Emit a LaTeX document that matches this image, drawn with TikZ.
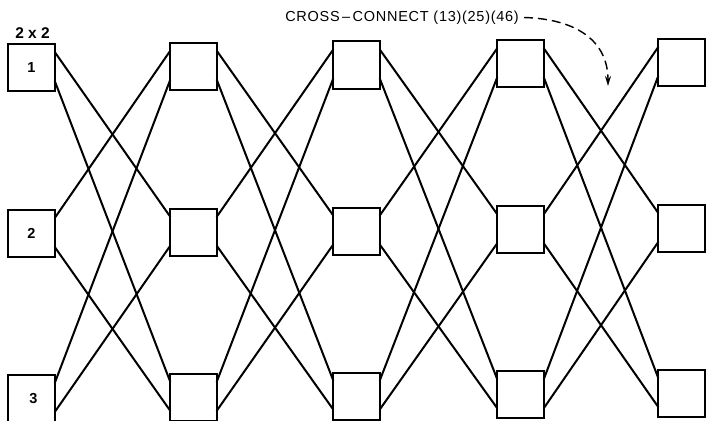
\documentclass[tikz,border=0pt]{standalone}
\usepackage{fontspec}
\setmainfont{Liberation Sans}
\newfontfamily\ccfont[LetterSpace=5]{Liberation Sans}
\usetikzlibrary{arrows.meta,calc}
\begin{document}
\begin{tikzpicture}[x=1pt,y=-1pt,
  switchbox/.style={draw, line width=2pt, minimum width=46.5pt,
    minimum height=47pt, inner sep=0pt, outer sep=0pt},
  digit/.style={font=\bfseries\fontsize{14.5}{14.5}\selectfont, inner sep=0pt},
  link/.style={line width=2pt, line cap=round},
  pointer/.style={line width=1.4pt, dash pattern=on 9pt off 5pt,
    -{Stealth[length=10pt,width=6pt]}}]
\useasboundingbox (0,0) rectangle (706,420);

% five stages of three 2x2 switches; each switch has two ports per side
\foreach \c/\x in {1/31.5,2/193.5,3/356.5,4/520.5,5/681.5}{
  \foreach \r/\t in {1/44,2/210,3/375}{
    \pgfmathsetmacro{\ytop}{\t-1.25*(\c-1)}
    \node[switchbox] (b\c\r) at (\x,\ytop+23.5) {};
    \coordinate (i\c\r u) at ($(b\c\r.north west)+(0,8)$);
    \coordinate (i\c\r l) at ($(b\c\r.north west)+(0,37)$);
    \coordinate (o\c\r u) at ($(b\c\r.north east)+(0,8)$);
    \coordinate (o\c\r l) at ($(b\c\r.north east)+(0,37)$);
  }
}

% cross-connect (13)(25)(46) between successive stages
\foreach \c [evaluate=\c as \n using int(\c+1)] in {1,2,3,4}{
  \draw[link] (o\c1u) -- (i\n2u);
  \draw[link] (o\c2u) -- (i\n1u);
  \draw[link] (o\c1l) -- (i\n3u);
  \draw[link] (o\c3u) -- (i\n1l);
  \draw[link] (o\c2l) -- (i\n3l);
  \draw[link] (o\c3l) -- (i\n2l);
}

% switch numbers and size label
\node[digit] (n1) at (b11.center) {1};
\node[digit] (n2) at (b12.center) {2};
\node[digit] (n3) at ($(b13.center)+(2,0)$) {3};
\node[font=\bfseries\fontsize{15.5}{15.5}\selectfont, inner sep=0pt] (size) at (32.5,33.5) {2 x 2};

% cross-connect annotation with its pointer
\node[font=\ccfont\fontsize{14.5}{14.5}\selectfont, inner sep=0pt, anchor=east] (cc) at (519,17.5)
  {CROSS\,\textendash\,CONNECT (13)(25)(46)};
\coordinate (tip) at (608,86);
\draw[pointer] ($(cc.east)+(5,0)$) .. controls (578,19) and (608,42) .. (tip);
\end{tikzpicture}
\end{document}
